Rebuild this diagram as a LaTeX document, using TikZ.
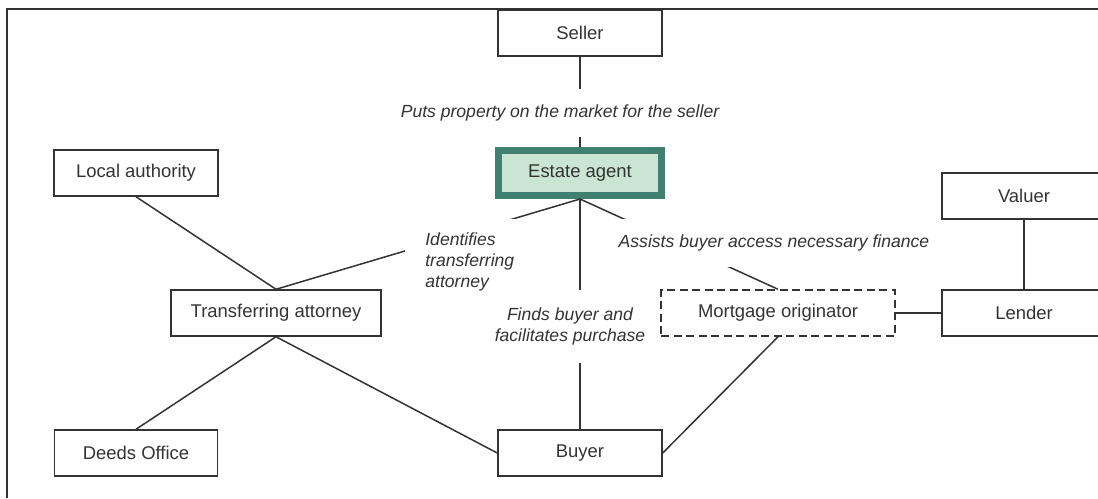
\documentclass[tikz,border=0pt]{standalone}
\usepackage{fontspec}
\setmainfont{Liberation Sans}

\definecolor{ink}{HTML}{333333}
\definecolor{agentline}{HTML}{3F8070}
\definecolor{agentfill}{HTML}{CAE6D3}

\tikzset{
  box/.style={draw=ink, line width=0.03cm, inner sep=0pt,
    minimum width=3.28cm, minimum height=0.92cm},
  agentbox/.style={box, draw=agentline, fill=agentfill, line width=0.14cm,
    minimum width=3.26cm, minimum height=0.9cm},
  dashbox/.style={box, dash pattern=on 0.16cm off 0.09cm},
  lbl/.style={fill=white, inner xsep=0.06cm, inner ysep=0pt, font=\itshape},
  link/.style={draw=ink, line width=0.03cm}
}

\begin{document}
\begin{tikzpicture}[x=0.02cm, y=-0.02cm, text=ink,
    font=\fontsize{10.5}{11.6}\selectfont]
  \useasboundingbox (0,0) rectangle (1098,498);
  \clip (0,0) rectangle (1098,498);

  % outer frame (open to the right and below)
  \draw[ink, line width=0.04cm] (7,498) -- (7,9) -- (1098,9);

  % parties
  \node[box] (seller) at (580,33) {Seller};
  \node[agentbox] (agent) at (580,173) {Estate agent};
  \node[box] (local) at (136,173) {Local authority};
  \node[box, minimum width=4.2cm] (attorney) at (276,313) {Transferring attorney};
  \node[box, minimum width=3.26cm] (deeds) at (136,453) {Deeds Office};
  \node[box] (buyer) at (580,453) {Buyer};
  \node[dashbox, minimum width=4.68cm] (mortgage) at (778,313) {Mortgage originator};
  \node[box] (valuer) at (1024,196) {Valuer};
  \node[box] (lender) at (1024,313) {Lender};

  % links
  \draw[link] (seller) -- (agent);
  \draw[link] (agent) -- (buyer);
  \draw[link] (attorney.north) -- (agent.south);
  \draw[link] (agent.south) -- (mortgage.north);
  \draw[link] (local.south) -- (attorney.north);
  \draw[link] (attorney.south) -- (deeds.north);
  \draw[link] (attorney.south) -- (buyer.west);
  \draw[link] (buyer.east) -- (mortgage.south);
  \draw[link] (mortgage) -- (lender);
  \draw[link] (valuer) -- (lender);

  % roles of the estate agent
  \node[lbl, minimum height=0.96cm] (puts) at (560,113)
    {Puts property on the market for the seller};
  \node[lbl, align=center, minimum height=1.46cm] (finds) at (570,326)
    {Finds buyer and\\facilitates purchase};
  \node[lbl, align=left, anchor=north west, inner xsep=0.4cm,
    minimum height=1.72cm] (identifies) at (405,219)
    {Identifies\\transferring\\attorney};
  \node[lbl, minimum height=0.96cm] (assists) at (774,243)
    {Assists buyer access necessary finance};
\end{tikzpicture}
\end{document}
